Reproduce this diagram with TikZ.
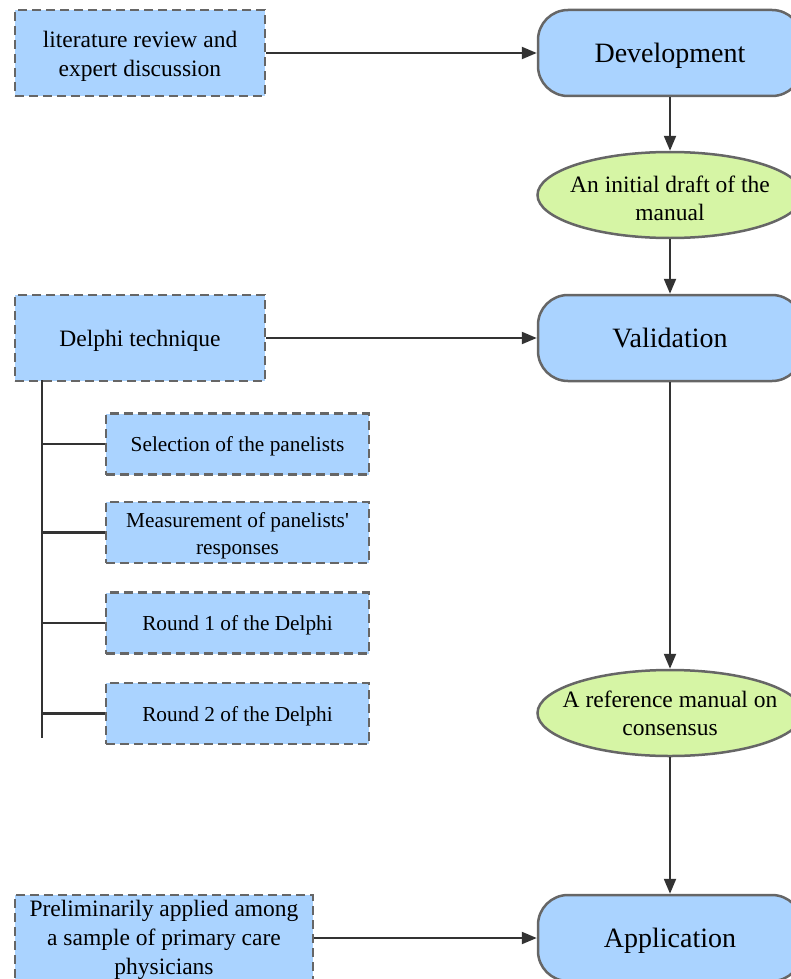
\documentclass[tikz,border=0pt]{standalone}
\usepackage{fontspec}
\setmainfont{Liberation Serif}
\usetikzlibrary{positioning,shapes.geometric,arrows.meta}

\definecolor{boxblue}{RGB}{170,211,255}
\definecolor{ovalgreen}{RGB}{214,245,165}
\definecolor{edgegray}{RGB}{102,102,102}
\definecolor{linedark}{RGB}{51,51,51}

% invisible strut that pushes a line of text a little lower in its box
\newcommand{\topstrut}[1][0.95em]{\rule{0pt}{#1}}

\tikzset{
  stage/.style={draw=edgegray, fill=boxblue, line width=2.5pt, rounded corners=30pt,
    minimum width=264pt, minimum height=86pt, text depth=0pt,
    font=\fontsize{28}{34}\selectfont},
  outcome/.style={ellipse, draw=edgegray, fill=ovalgreen, line width=2.5pt,
    minimum width=265pt, minimum height=86pt, inner xsep=-20pt, inner ysep=0pt,
    align=center, font=\fontsize{23.5}{28}\selectfont},
  source/.style={draw=edgegray, fill=boxblue, line width=2.5pt, dash pattern=on 9pt off 5pt,
    minimum width=250pt, minimum height=86pt, inner sep=0pt, align=center,
    font=\fontsize{23.5}{29}\selectfont},
  stepbox/.style={draw=edgegray, fill=boxblue, line width=2.5pt, dash pattern=on 9pt off 5pt,
    minimum width=263pt, minimum height=61pt, inner sep=0pt, align=center,
    font=\fontsize{21.3}{27}\selectfont},
  flow/.style={draw=linedark, line width=2.2pt, -{Triangle[length=15pt,width=12pt]}},
  branch/.style={draw=linedark, line width=2.2pt}
}

\begin{document}
\begin{tikzpicture}[x=1pt,y=-1pt]
  \path[use as bounding box, clip] (0,0) rectangle (791,979);

  % main column
  \node[stage] (dev) at (670,53) {Development};
  \node[outcome] (draft) at (670,195) {\topstrut An initial draft of the\\manual};
  \node[stage] (valid) at (670,338) {Validation};
  \node[outcome] (consensus) at (670,713) {A reference manual on\\consensus};
  \node[stage] (appl) at (670,938) {Application};

  % methods on the left
  \node[source] (lit) at (140,53) {\topstrut literature review and\\expert discussion};
  \node[source] (delphi) at (140,338) {\topstrut Delphi technique};
  \node[source, minimum width=298pt] (prelim) at (164,938)
    {\topstrut[0.85em]Preliminarily applied among\\a sample of primary care\\physicians};

  % Delphi steps
  \node[stepbox] (panel) at (237.5,444) {\topstrut Selection of the panelists};
  \node[stepbox] (measure) at (237.5,532.5)
    {\topstrut[1.05em]Measurement of panelists\textquotesingle\\responses};
  \node[stepbox] (round1) at (237.5,623) {\topstrut Round 1 of the Delphi};
  \node[stepbox] (round2) at (237.5,713.5) {\topstrut Round 2 of the Delphi};

  \coordinate (trunk) at (42,380);
  \coordinate (trunkend) at (42,738);
  \draw[branch] (trunk) -- (trunkend);
  \foreach \s in {panel,measure,round1,round2}
    \draw[branch] (\s.west -| trunk) -- (\s.west);

  % arrows
  \draw[flow] (lit) -- (dev);
  \draw[flow] (delphi) -- (valid);
  \draw[flow] (prelim) -- (appl);
  \draw[flow] (dev) -- (draft);
  \draw[flow] (draft) -- (valid);
  \draw[flow] (valid) -- (consensus);
  \draw[flow] (consensus) -- (appl);

\end{tikzpicture}
\end{document}
